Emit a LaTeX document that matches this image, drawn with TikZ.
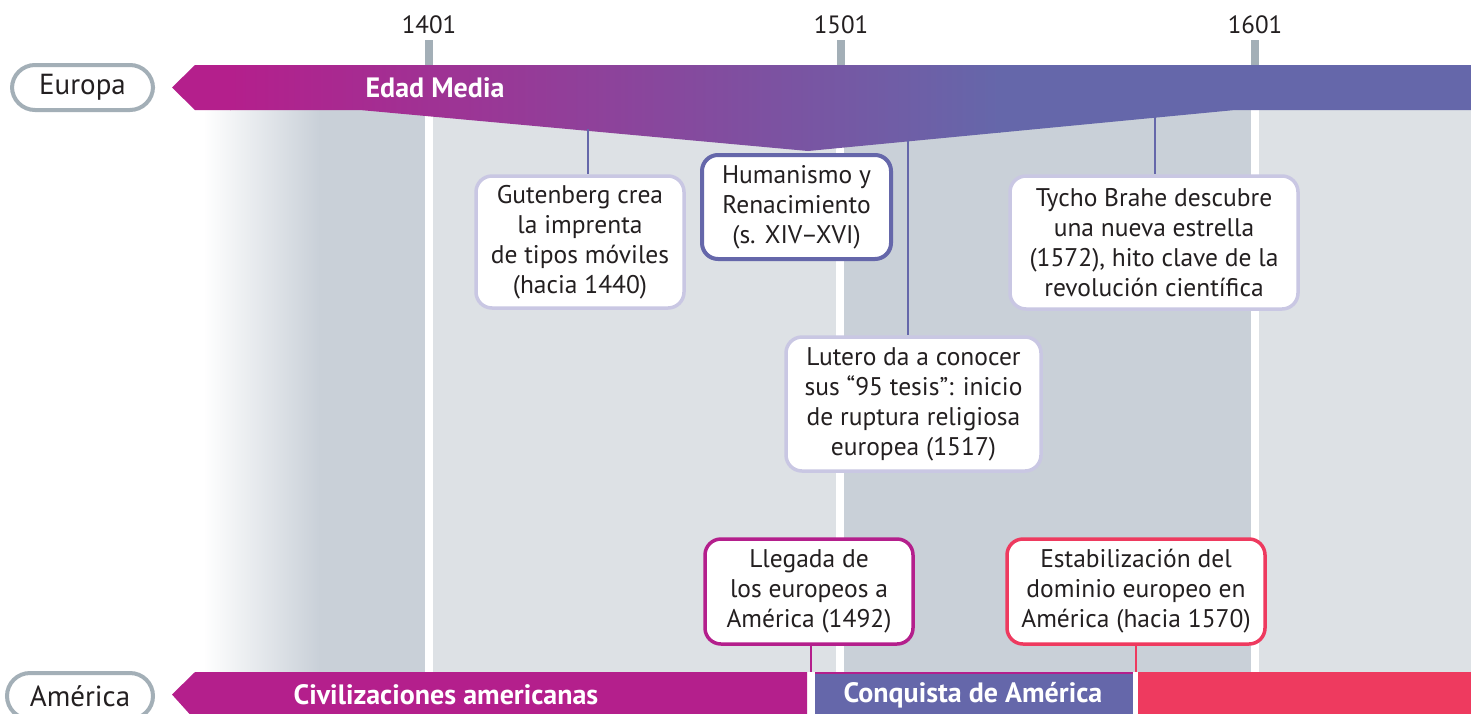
\documentclass[tikz,border=0pt]{standalone}
\usepackage{fontspec}
\setmainfont{PT Sans}
\definecolor{mag}{HTML}{B41F8C}
\definecolor{blu}{HTML}{6567AA}
\definecolor{rojo}{HTML}{EE3A5F}
\definecolor{lav}{HTML}{C9C7E3}
\definecolor{grisb}{HTML}{A3AFB7}
\definecolor{colA}{HTML}{DDE1E5}
\definecolor{colB}{HTML}{C9D0D8}
\definecolor{ink}{HTML}{231F20}
\tikzset{
  evbox/.style={draw=lav, line width=3.5pt, fill=white, rounded corners=16pt, align=center,
    inner sep=0pt, text=ink, font=\fontsize{25.5}{30}\selectfont},
  conn/.style={line width=2pt},
  pill/.style={draw=grisb, line width=4pt, fill=white, rounded corners=23pt, inner sep=0pt,
    text=ink, font=\fontsize{29}{32}\selectfont},
  bandtxt/.style={text=white, font=\bfseries\fontsize{28}{30}\selectfont},
  yeartxt/.style={text=ink, font=\fontsize{25}{28}\selectfont},
  tick/.style={fill=grisb},
}
\begin{document}
\begin{tikzpicture}[x=1pt,y=-1pt]
\clip (0,0) rectangle (1471,713);
\fill[white] (0,0) rectangle (1471,713);
% background columns
\shade[left color=white, right color=colB] (203,65) rectangle (320,672);
\fill[colB] (319.5,65) rectangle (425,672);
\fill[colA] (433,65) rectangle (836,672);
\fill[colB] (844,65) rectangle (1251,672);
\fill[colA] (1259,65) rectangle (1471,672);
% years and ticks
\node[yeartxt] (y1401) at (429,25) {1401};
\node[yeartxt] (y1501) at (841,25) {1501};
\node[yeartxt] (y1601) at (1255,25) {1601};
\fill[tick] (425,40) rectangle (433,65);
\fill[tick] (837,40) rectangle (845,65);
\fill[tick] (1251,40) rectangle (1259,65);
% Europa band
\begin{scope}
  \clip (172,87.5) -- (195,65) -- (1471,65) -- (1471,110) -- (1235,110) -- (808,151)
        -- (360,110) -- (195,110) -- cycle;
  \fill[mag] (170,60) rectangle (231,160);
  \shade[left color=mag, right color=blu] (230,60) rectangle (1000,160);
  \fill[blu] (999,60) rectangle (1471,160);
\end{scope}
\node[bandtxt] (edad) at (435,88) {Edad Media};
\node[pill, minimum width=141pt, minimum height=45pt] (eur) at (82.5,87.5) {Europa};
% event boxes
\node[evbox, minimum width=208pt, minimum height=132pt] (gut) at (580,242)
  {Gutenberg crea\\la imprenta\\de tipos móviles\\(hacia 1440)};
\node[evbox, draw=blu, line width=4pt, minimum width=189pt, minimum height=104pt] (hum) at (796.5,207)
  {Humanismo y\\Renacimiento\\(s. XIV–XVI)};
\node[evbox, minimum width=288pt, minimum height=133pt] (tyc) at (1154,242.5)
  {Tycho Brahe descubre\\una nueva estrella\\(1572), hito clave de la\\revolución científica};
\node[evbox, minimum width=255pt, minimum height=134pt] (lut) at (913.5,404)
  {Lutero da a conocer\\sus “95 tesis”: inicio\\de ruptura religiosa\\europea (1517)};
\node[evbox, draw=mag, minimum width=208pt, minimum height=105pt] (lle) at (809,591.5)
  {Llegada de\\los europeos a\\América (1492)};
\node[evbox, draw=rojo, minimum width=258pt, minimum height=105pt] (est) at (1136,591.5)
  {Estabilización del\\dominio europeo en\\América (hacia 1570)};
% connectors from Europa band
\coordinate (e1) at (588,129);
\coordinate (e2) at (908,139.5);
\coordinate (e3) at (1155,116);
\draw[conn, blu] (e1) -- (gut.north -| e1);
\draw[conn, blu] (e2) -- (lut.north -| e2);
\draw[conn, blu] (e3) -- (tyc.north -| e3);
% America band
\fill[mag] (172,694.5) -- (195,672) -- (807,672) -- (807,720) -- (195,720) -- cycle;
\fill[blu] (815,672) rectangle (1133,720);
\fill[mag] (815,672) rectangle (1133,674);
\fill[rojo] (1138,672) rectangle (1471,720);
\coordinate (a1) at (810.5,672);
\coordinate (a2) at (1135.5,672);
\draw[conn, mag] (lle.south -| a1) -- (a1);
\draw[conn, rojo] (est.south -| a2) -- (a2);
\node[bandtxt] (civ) at (446,695) {Civilizaciones americanas};
\node[bandtxt] (conq) at (973,695) {Conquista de América};
\node[pill, minimum width=146pt, minimum height=46pt] (ame) at (80,696) {América};
\end{tikzpicture}
\end{document}
